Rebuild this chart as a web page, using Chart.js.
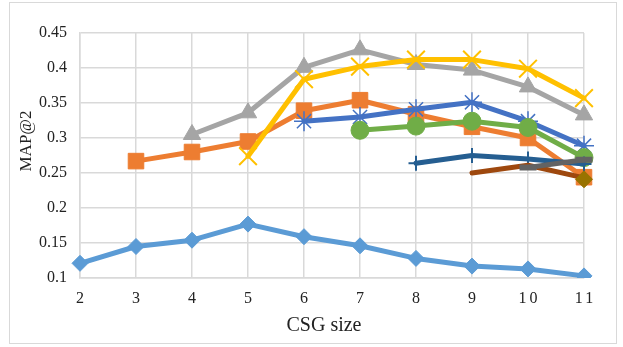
<!DOCTYPE html>
<html>
<head>
<meta charset="utf-8">
<script src="https://cdn.jsdelivr.net/npm/chart.js@4/dist/chart.umd.min.js"></script>
<style>
  html, body { margin: 0; padding: 0; background: #fff; }
  #wrap { position: relative; width: 623px; height: 347px; }
  #frame { position: absolute; left: 9px; top: 2px; width: 608px; height: 342px; border: 1.5px solid #d9d9d9; box-sizing: border-box; pointer-events: none; }
  canvas { position: absolute; left: 0; top: 0; }
</style>
</head>
<body>
<div id="wrap">
  <canvas id="c" width="623" height="347"></canvas>
  <div id="frame"></div>
</div>
<script>
// CSG sizes on the x axis
const sizes = ['2', '3', '4', '5', '6', '7', '8', '9', '10', '11'];
const yTicks = [0.1, 0.15, 0.2, 0.25, 0.3, 0.35, 0.4, 0.45];
const xTitle = 'CSG size';
const yTitle = 'MAP@2';

// MAP@2 per series (null where a series has no value)
const seriesA = [0.121, 0.145, 0.154, 0.177, 0.159, 0.146, 0.128, 0.117, 0.113, 0.103];
const seriesB = [null, 0.267, 0.280, 0.295, 0.339, 0.354, 0.334, 0.316, 0.300, 0.244];
const seriesC = [null, null, 0.305, 0.336, 0.401, 0.426, 0.405, 0.397, 0.373, 0.333];
const seriesD = [null, null, null, 0.274, 0.384, 0.402, 0.412, 0.412, 0.399, 0.357];
const seriesE = [null, null, null, null, 0.324, 0.330, 0.341, 0.351, 0.324, 0.289];
const seriesF = [null, null, null, null, null, 0.311, 0.317, 0.324, 0.315, 0.272];
const seriesG = [null, null, null, null, null, null, 0.264, 0.275, 0.270, 0.263];
const seriesH = [null, null, null, null, null, null, null, 0.250, 0.261, 0.243];
const seriesI = [null, null, null, null, null, null, null, null, 0.258, 0.269];
const seriesJ = [null, null, null, null, null, null, null, null, null, 0.241];

const styles = [
  { data: seriesA, color: '#5B9BD5', point: 'rectRot', r: 8, bw: 1 },
  { data: seriesB, color: '#ED7D31', point: 'rect', r: 11, bw: 1 },
  { data: seriesC, color: '#A5A5A5', point: 'triangle', r: 10, bw: 1 },
  { data: seriesD, color: '#FFC000', point: 'crossRot', r: 12.5, bw: 2 },
  { data: seriesE, color: '#4472C4', point: 'star', r: 10, bw: 1.5 },
  { data: seriesF, color: '#70AD47', point: 'circle', r: 9, bw: 1 },
  { data: seriesG, color: '#255E91', point: 'cross', r: 7.5, bw: 2 },
  { data: seriesH, color: '#9E480E', point: 'circle', r: 0, bw: 0 },
  { data: seriesI, color: '#636363', point: 'line', r: 8.5, bw: 6 },
  { data: seriesJ, color: '#997300', point: 'rectRot', r: 8.5, bw: 1 }
];

const n = styles.length;
const datasets = styles.map((s, i) => ({
  label: 'S' + (i + 1),
  data: s.data,
  borderColor: s.color,
  backgroundColor: s.color,
  borderWidth: 5,
  pointStyle: s.point,
  pointRadius: s.r,
  pointBorderWidth: s.bw,
  pointBackgroundColor: s.color,
  pointBorderColor: s.color,
  borderCapStyle: 'round',
  borderJoinStyle: 'round',
  tension: 0,
  order: n - i
}));

const serif = "'Liberation Serif', 'Times New Roman', serif";
const ink = '#222';

// Loose tracking for the x tick labels, axis titles placed at fixed spots
const axisText = {
  id: 'axisText',
  beforeDraw(chart) {
    const sc = chart.scales.x;
    if (sc._spaced) return;
    const orig = sc.drawLabels;
    sc.drawLabels = function (area) {
      const prev = this.ctx.letterSpacing;
      this.ctx.letterSpacing = '3px';
      this.ctx.save();
      this.ctx.translate(1.5, 0);
      orig.call(this, area);
      this.ctx.restore();
      this.ctx.letterSpacing = prev;
    };
    sc._spaced = true;
  },
  afterDraw(chart) {
    const { ctx } = chart;
    ctx.save();
    ctx.fillStyle = ink;
    ctx.textAlign = 'center';
    ctx.textBaseline = 'middle';
    ctx.font = "20px " + serif;
    ctx.fillText(xTitle, 324, 326);
    ctx.translate(27, 141);
    ctx.rotate(-Math.PI / 2);
    ctx.font = "17px " + serif;
    ctx.fillText(yTitle, 0, 0);
    ctx.restore();
  }
};

new Chart(document.getElementById('c'), {
  type: 'line',
  data: { labels: sizes, datasets },
  plugins: [axisText],
  options: {
    responsive: false,
    animation: false,
    events: [],
    layout: { padding: { left: 12, right: 39, top: 33, bottom: 4 } },
    plugins: { legend: { display: false }, tooltip: { enabled: false } },
    scales: {
      x: {
        offset: false,
        grid: { color: '#d9d9d9', lineWidth: 1.5, drawTicks: false },
        border: { color: '#d9d9d9', width: 1.5 },
        ticks: { color: ink, font: { family: serif, size: 16 }, padding: 11, maxRotation: 0 },
        afterFit: (s) => { s.height = 65; }
      },
      y: {
        min: 0.1,
        max: 0.45,
        afterBuildTicks: (s) => { s.ticks = yTicks.map(v => ({ value: v })); },
        grid: { color: '#d9d9d9', lineWidth: 1.5, drawTicks: false },
        border: { color: '#d9d9d9', width: 1.5 },
        ticks: {
          color: ink, font: { family: serif, size: 16 }, padding: 13,
          callback: (v) => String(Number(v.toFixed(2)))
        },
        afterFit: (s) => { s.width = 68; }
      }
    }
  }
});
</script>
</body>
</html>
